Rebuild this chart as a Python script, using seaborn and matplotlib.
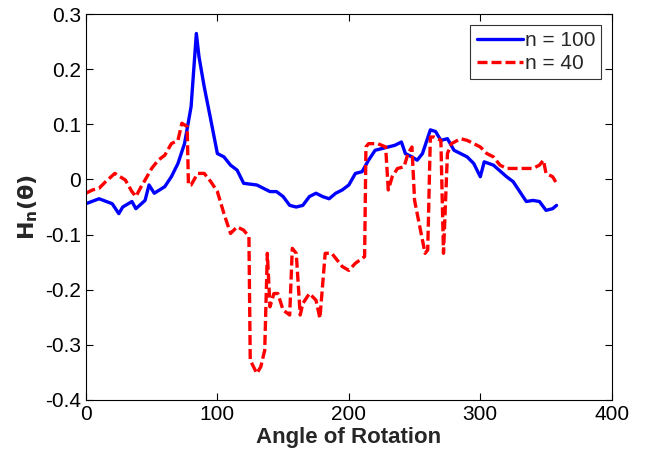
import numpy as np
import pandas as pd
import matplotlib
matplotlib.use("Agg")
import matplotlib.pyplot as plt
import seaborn as sns

# n = 100 curve (angle, H)
angle_100 = [0, 10, 20, 25, 28, 35, 38, 45, 48, 52, 60, 65, 70, 75, 80, 84, 86, 90, 95,
             100, 105, 110, 115, 120, 130, 140, 145, 150, 155, 160, 165, 170, 175, 180,
             185, 190, 195, 200, 205, 210, 215, 220, 225, 230, 235, 240, 243, 248, 252,
             256, 262, 266, 270, 275, 280, 290, 295, 300, 303, 310, 320, 325, 330, 335,
             340, 345, 350, 355, 358]
h_100 = [-0.044, -0.035, -0.044, -0.062, -0.050, -0.040, -0.053, -0.038, -0.010, -0.025,
         -0.013, 0.005, 0.029, 0.065, 0.132, 0.265, 0.223, 0.168, 0.108,
         0.047, 0.041, 0.026, 0.017, -0.007, -0.010, -0.022, -0.022, -0.031, -0.047,
         -0.050, -0.047, -0.031, -0.025, -0.031, -0.035, -0.025, -0.019, -0.010, 0.011,
         0.014, 0.035, 0.053, 0.056, 0.059, 0.062, 0.068, 0.047, 0.041, 0.035,
         0.047, 0.090, 0.087, 0.071, 0.074, 0.053, 0.041, 0.029, 0.005, 0.032,
         0.026, 0.005, -0.004, -0.022, -0.040, -0.038, -0.040, -0.056, -0.053, -0.047]

# n = 40 curve (angle, H)
angle_40 = [0, 5, 10, 15, 22, 30, 35, 38, 42, 45, 50, 55, 60, 65, 70, 73, 77, 78, 80, 85,
            90, 95, 100, 105, 110, 115, 120, 124, 125, 130, 133, 136, 138, 140, 143, 146,
            150, 155, 157, 160, 163, 165, 170, 175, 178, 182, 187, 195, 200, 205, 212,
            213, 215, 222, 228, 230, 233, 237, 242, 245, 248, 250, 255, 258, 260, 262,
            265, 270, 272, 275, 278, 285, 290, 300, 305, 310, 315, 320, 330, 335, 340,
            345, 348, 350, 355, 358]
h_40 = [-0.025, -0.019, -0.016, -0.004, 0.011, -0.001, -0.022, -0.031, -0.013, -0.001,
        0.020, 0.035, 0.044, 0.065, 0.071, 0.102, 0.096, -0.010, -0.010, 0.011,
        0.011, -0.004, -0.022, -0.062, -0.098, -0.086, -0.092, -0.104, -0.328, -0.352,
        -0.340, -0.310, -0.134, -0.231, -0.207, -0.207, -0.237, -0.246, -0.125, -0.134,
        -0.246, -0.225, -0.207, -0.219, -0.252, -0.134, -0.134, -0.158, -0.165, -0.152,
        -0.140, 0.059, 0.065, 0.065, 0.059, -0.019, 0.005, 0.020, 0.023, 0.047,
        0.059, -0.038, -0.098, -0.134, -0.128, 0.077, 0.077, 0.071, -0.134, 0.047,
        0.065, 0.074, 0.071, 0.059, 0.047, 0.041, 0.026, 0.020, 0.020, 0.020,
        0.020, 0.026, 0.035, 0.011, 0.005, -0.007]

x_ticks = [0, 100, 200, 300, 400]
y_ticks = [-0.4, -0.3, -0.2, -0.1, 0, 0.1, 0.2, 0.3]
y_ticklabels = ["-0.4", "-0.3", "-0.2", "-0.1", "0", "0.1", "0.2", "0.3"]

df = pd.concat([
    pd.DataFrame({"angle": angle_100, "H": h_100, "series": "n = 100"}),
    pd.DataFrame({"angle": angle_40, "H": h_40, "series": "n = 40"}),
])

sns.set_style("ticks")
plt.rcParams["font.family"] = ["Liberation Sans", "DejaVu Sans"]
plt.rcParams["axes.unicode_minus"] = False

fig = plt.figure(figsize=(6.46, 4.57), dpi=100)
ax = fig.add_axes([0.133, 0.125, 0.814, 0.844])

sns.lineplot(data=df, x="angle", y="H", hue="series", style="series",
             palette={"n = 100": "#0000ff", "n = 40": "#ff0000"},
             dashes={"n = 100": "", "n = 40": (3, 1.2)},
             linewidth=2.4, ax=ax, sort=False, estimator=None)

ax.set_xlim(0, 400)
ax.set_ylim(-0.4, 0.3)
ax.set_xticks(x_ticks)
ax.set_yticks(y_ticks)
ax.set_yticklabels(y_ticklabels)
ax.tick_params(direction="in", top=True, right=True, length=5, width=0.8,
               labelsize=15, colors="black")
for s in ax.spines.values():
    s.set_visible(True)
    s.set_color("black")
    s.set_linewidth(0.8)

ax.set_xlabel("Angle of Rotation", fontsize=16, fontweight="bold", labelpad=2)
ax.set_ylabel(r"$\mathbf{H_n(\theta)}$", fontsize=16, labelpad=4)

leg = ax.legend(loc="upper right", fontsize=15, frameon=True, fancybox=False,
                handlelength=2.2, handletextpad=0.1, borderpad=0.3,
                labelspacing=0.2, borderaxespad=0.5)
leg.get_frame().set_edgecolor("black")
leg.get_frame().set_linewidth(0.8)
leg.set_title(None)

fig.savefig("out.png", dpi=100)
